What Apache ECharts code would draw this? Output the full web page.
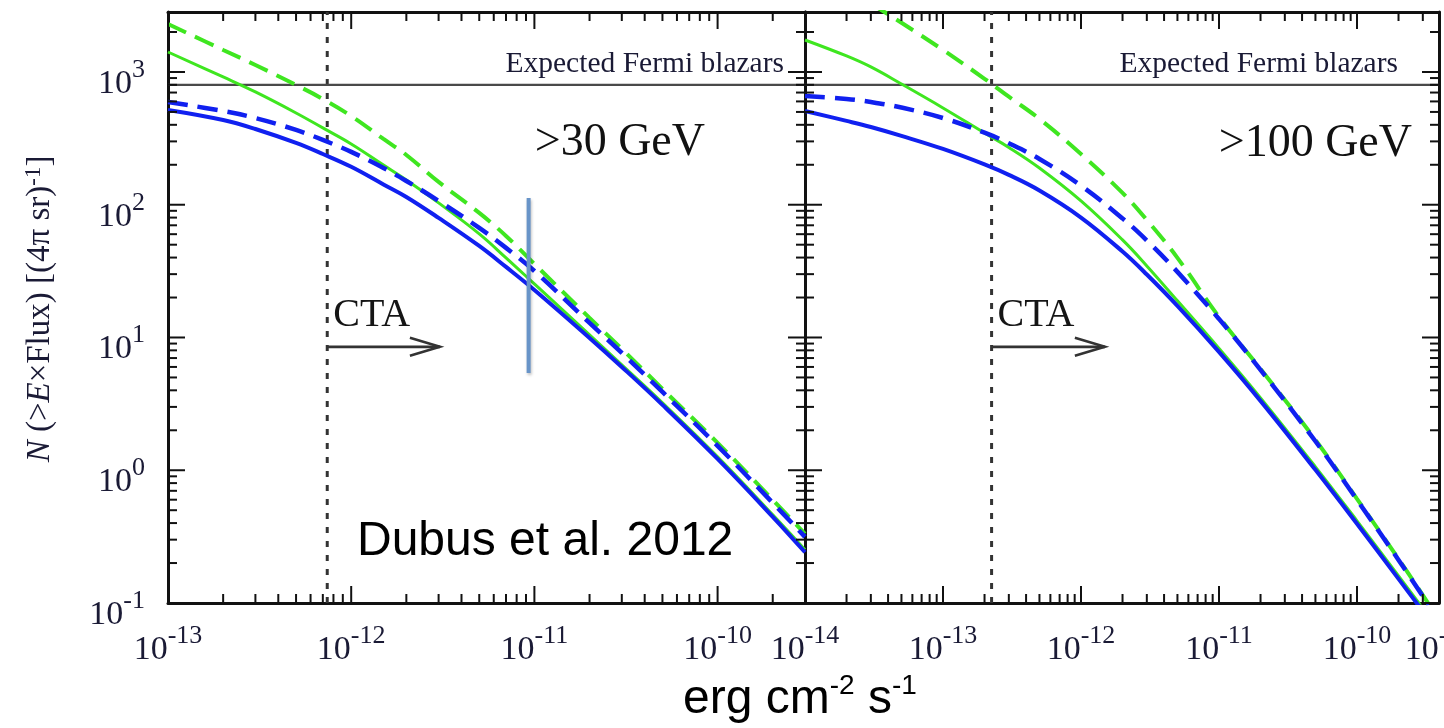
<!DOCTYPE html>
<html>
<head>
<meta charset="utf-8">
<script src="https://cdn.jsdelivr.net/npm/echarts@6.0.0/dist/echarts.min.js"></script>
<style>
  html, body { margin: 0; padding: 0; background: #fff; }
  #chart { width: 1444px; height: 728px; }
</style>
</head>
<body>
<div id="chart"></div>
<script>
// ---- >30 GeV panel: N(>S) versus energy-flux threshold S (erg cm^-2 s^-1)
const flux30 = [1e-13, 2e-13, 3e-13, 5e-13, 7e-13, 1e-12, 1.5e-12, 2e-12, 3e-12, 5e-12, 7e-12, 1e-11, 2e-11, 3e-11, 5e-11, 1e-10, 2e-10, 3e-10];
const greenDashed30 = [2298, 1465, 1129, 798, 626, 466, 313, 237, 148.5, 86.8, 58.2, 35.8, 14.05, 8.21, 4.10, 1.608, 0.599, 0.332];
const greenSolid30  = [1414, 917, 707, 491, 379, 287, 199, 153.7, 103.2, 60.3, 39.8, 25.3, 10.46, 6.22, 3.22, 1.261, 0.461, 0.252];
const blueDashed30  = [594, 508, 450, 366, 307.6, 250, 189.3, 151, 106.8, 66.9, 47.3, 31.7, 12.88, 7.66, 3.89, 1.527, 0.568, 0.315];
const blueSolid30   = [518, 435, 372, 292, 241, 193, 142.2, 114.5, 79.6, 48.9, 34.0, 22.8, 9.93, 6.0, 3.11, 1.218, 0.446, 0.241];

// ---- >100 GeV panel
const flux100 = [1e-14, 2e-14, 3e-14, 5e-14, 1e-13, 2e-13, 3e-13, 5e-13, 1e-12, 2e-12, 3e-12, 5e-12, 1e-11, 2e-11, 5e-11, 1e-10, 2e-10, 3.3e-10];
const greenDashed100 = [null, null, 3280, 2347, 1465, 889, 651, 443, 241, 122.7, 76.8, 39.8, 14.3, 5.80, 1.694, 0.609, 0.215, 0.0986];
const greenSolid100  = [1742, 1320, 1091, 812, 536, 347, 270, 189, 106.8, 54.3, 34.6, 18.9, 8.28, 3.51, 1.061, 0.416, 0.160, 0.080];
const blueDashed100  = [659, 626, 594, 539.5, 450, 349, 290.5, 221.2, 139.3, 78.9, 53.8, 31.2, 13.8, 5.70, 1.653, 0.599, 0.211, 0.097];
const blueSolid100   = [508, 428, 385, 330, 263, 201, 167.7, 127.9, 80.1, 44.4, 29.8, 17.3, 7.79, 3.33, 1.007, 0.395, 0.152, 0.076];

// ---- reference levels and annotations
const fermiExpected = 800;
const ctaLimit30 = 7.4e-13;
const ctaLimit100 = 2.25e-13;
const ctaArrowEnd30 = 3.05e-12;
const ctaArrowEnd100 = 1.49e-12;
const ctaArrowLevel = 8.5;
const markerFlux = 9.3e-12;
const markerRange = [112.5, 5.4];

// ---- axis ranges and labelled decades
const xRange30 = [1e-13, 3e-10];
const xRange100 = [1e-14, 3.93e-10];
const yRange = [0.1, 2830];
const xTickExponents30 = [-13, -12, -11, -10];
const xTickExponents100 = [-14, -13, -12, -11, -10];
const yTickExponents = [-1, 0, 1, 2, 3];

const BLUE = '#1020f0';
const GREEN = '#3fe620';
const INK = '#1a1a35';
const SERIF = '"Liberation Serif", "Times New Roman", serif';
const SANS = '"Liberation Sans", Arial, sans-serif';

const pairs = (xs, ys) => xs.map((x, i) => [x, ys[i]]);

const powerRich = {
  b: { fontSize: 34, fontFamily: SERIF, color: INK, lineHeight: 44, verticalAlign: 'bottom' },
  s: { fontSize: 26, fontFamily: SERIF, color: INK, lineHeight: 16, verticalAlign: 'top' }
};
function powerLabel(exponents) {
  return function (v) {
    const e = Math.log10(v);
    const r = Math.round(e);
    if (Math.abs(e - r) > 1e-6 || exponents.indexOf(r) < 0) return '';
    return '{b|10}{s|' + r + '}';
  };
}

const frameLine = { show: true, onZero: false, lineStyle: { color: '#111', width: 3 } };
function xAxisDef(grid, range, pos, exps) {
  return {
    type: 'log', gridIndex: grid, min: range[0], max: range[1], position: pos,
    axisLine: frameLine, axisTick: { show: false }, minorTick: { show: false },
    splitLine: { show: false },
    axisLabel: exps ? {
      show: true, margin: 20, formatter: powerLabel(exps), rich: powerRich,
      showMinLabel: true, showMaxLabel: false
    } : { show: false }
  };
}
function yAxisDef(grid, pos, exps) {
  return {
    type: 'log', gridIndex: grid, min: yRange[0], max: yRange[1], position: pos,
    axisLine: frameLine, axisTick: { show: false }, minorTick: { show: false },
    splitLine: { show: false },
    axisLabel: exps ? {
      show: true, margin: 23, formatter: powerLabel(exps), rich: powerRich,
      padding: [14, 0, 0, 0], showMinLabel: true, showMaxLabel: false
    } : { show: false }
  };
}

function curve(xs, ys, color, width, dashed, grid, z) {
  return {
    type: 'line', xAxisIndex: grid * 2, yAxisIndex: grid * 2,
    data: pairs(xs, ys), showSymbol: false, symbol: 'none', smooth: 0.4, clip: true,
    lineStyle: { color: color, width: width, type: dashed ? [20, 10] : 'solid', cap: 'butt' },
    z: z, silent: true
  };
}

function straight(points, style, grid, z) {
  return {
    type: 'line', xAxisIndex: grid * 2, yAxisIndex: grid * 2,
    data: points, showSymbol: false, symbol: 'none', clip: true,
    lineStyle: style, z: z, silent: true
  };
}

// inward major/minor log ticks on all four sides of a panel
function tickData(xr, yr) {
  const out = [];
  const add = (lo, hi, make) => {
    const k0 = Math.floor(Math.log10(lo) + 1e-9), k1 = Math.ceil(Math.log10(hi));
    for (let k = k0; k <= k1; k++) {
      for (let m = 1; m <= 9; m++) {
        const v = m * Math.pow(10, k);
        if (v >= lo * 0.999999 && v <= hi * 1.000001) out.push(make(v, m === 1 ? 1 : 0));
      }
    }
  };
  add(xr[0], xr[1], (v, major) => [v, yr[0], 0, major]);
  add(yr[0], yr[1], (v, major) => [xr[0], v, 1, major]);
  return out;
}
function tickSeries(grid, xr) {
  return {
    type: 'custom', coordinateSystem: 'cartesian2d', xAxisIndex: grid * 2, yAxisIndex: grid * 2,
    data: tickData(xr, yRange), silent: true, z: 20, clip: false,
    renderItem: function (params, api) {
      const p = api.coord([api.value(0), api.value(1)]);
      const cs = params.coordSys;
      const len = api.value(3) ? 17 : 9;
      const st = { stroke: '#111', lineWidth: 2 };
      if (api.value(2) === 0) {
        const b = cs.y + cs.height, t = cs.y;
        return { type: 'group', children: [
          { type: 'line', shape: { x1: p[0], y1: b, x2: p[0], y2: b - len }, style: st },
          { type: 'line', shape: { x1: p[0], y1: t, x2: p[0], y2: t + len }, style: st }
        ] };
      }
      const l = cs.x, r = cs.x + cs.width;
      return { type: 'group', children: [
        { type: 'line', shape: { x1: l, y1: p[1], x2: l + len, y2: p[1] }, style: st },
        { type: 'line', shape: { x1: r, y1: p[1], x2: r - len, y2: p[1] }, style: st }
      ] };
    }
  };
}

// CTA sensitivity arrow with its label
function ctaSeries(grid, from, to) {
  return {
    type: 'custom', coordinateSystem: 'cartesian2d', xAxisIndex: grid * 2, yAxisIndex: grid * 2,
    data: [[from, ctaArrowLevel, to]], silent: true, z: 15, clip: false,
    renderItem: function (params, api) {
      const p0 = api.coord([api.value(0), api.value(1)]);
      const p1 = api.coord([api.value(2), api.value(1)]);
      const st = { stroke: '#333', lineWidth: 2.6, fill: null };
      return { type: 'group', children: [
        { type: 'line', shape: { x1: p0[0], y1: p0[1], x2: p1[0], y2: p1[1] }, style: st },
        { type: 'polyline', shape: { points: [[p1[0] - 30, p1[1] - 9], [p1[0], p1[1]], [p1[0] - 30, p1[1] + 9]] }, style: st },
        { type: 'text', x: p0[0] + 6, y: p0[1] - 31,
          style: { text: 'CTA', fontSize: 40, fontFamily: SERIF, fill: '#151515', align: 'left', verticalAlign: 'middle' } }
      ] };
    }
  };
}

const dottedStyle = { color: '#333', width: 3, type: [6, 8] };
const fermiStyle = { color: '#4a4a4a', width: 2.4 };

const series = [
  // >30 GeV
  straight([[ctaLimit30, yRange[0]], [ctaLimit30, yRange[1]]], dottedStyle, 0, 2),
  straight([[xRange30[0], fermiExpected], [xRange30[1], fermiExpected]], fermiStyle, 0, 2),
  curve(flux30, greenDashed30, GREEN, 4, true, 0, 3),
  curve(flux30, greenSolid30, GREEN, 3, false, 0, 4),
  curve(flux30, blueDashed30, BLUE, 4.5, true, 0, 5),
  curve(flux30, blueSolid30, BLUE, 4, false, 0, 6),
  {
    type: 'line', xAxisIndex: 0, yAxisIndex: 0,
    data: [[markerFlux, markerRange[0]], [markerFlux, markerRange[1]]],
    showSymbol: false, symbol: 'none', silent: true, z: 8,
    lineStyle: { color: '#6894c8', width: 4, shadowColor: 'rgba(0,0,0,0.25)', shadowBlur: 3, shadowOffsetX: 1, shadowOffsetY: 2 }
  },
  ctaSeries(0, ctaLimit30, ctaArrowEnd30),
  tickSeries(0, xRange30),
  // >100 GeV
  straight([[ctaLimit100, yRange[0]], [ctaLimit100, yRange[1]]], dottedStyle, 1, 2),
  straight([[xRange100[0], fermiExpected], [xRange100[1], fermiExpected]], fermiStyle, 1, 2),
  curve(flux100, greenDashed100, GREEN, 4, true, 1, 3),
  curve(flux100, greenSolid100, GREEN, 3, false, 1, 4),
  curve(flux100, blueDashed100, BLUE, 4.5, true, 1, 5),
  curve(flux100, blueSolid100, BLUE, 4, false, 1, 6),
  ctaSeries(1, ctaLimit100, ctaArrowEnd100),
  tickSeries(1, xRange100)
];

const chart = echarts.init(document.getElementById('chart'), null, { renderer: 'canvas' });
chart.setOption({
  backgroundColor: '#fff',
  animation: false,
  grid: [
    { left: 168, top: 12, width: 637, height: 591 },
    { left: 805, top: 12, width: 634, height: 591 }
  ],
  xAxis: [
    xAxisDef(0, xRange30, 'bottom', xTickExponents30),
    xAxisDef(0, xRange30, 'top', null),
    xAxisDef(1, xRange100, 'bottom', xTickExponents100),
    xAxisDef(1, xRange100, 'top', null)
  ],
  yAxis: [
    yAxisDef(0, 'left', yTickExponents),
    yAxisDef(0, 'right', null),
    yAxisDef(1, 'left', null),
    yAxisDef(1, 'right', null)
  ],
  series: series,
  graphic: [
    { type: 'text', x: 40, y: 309, rotation: Math.PI / 2, silent: true,
      style: {
        text: '{i|N}{m| (>}{i|E}{m|×Flux) [(4π sr)}{s|-1}{m|]}',
        align: 'center', verticalAlign: 'middle',
        rich: {
          m: { fontSize: 33, fontFamily: SERIF, fill: INK, lineHeight: 36 },
          i: { fontSize: 33, fontFamily: SERIF, fontStyle: 'italic', fill: INK, lineHeight: 36 },
          s: { fontSize: 23, fontFamily: SERIF, fill: INK, lineHeight: 8, verticalAlign: 'top' }
        }
      } },
    { type: 'text', x: 683, y: 672, silent: true,
      style: {
        text: '{a|erg cm}{s|-2}{a| s}{s|-1}', align: 'left', verticalAlign: 'top',
        rich: {
          a: { fontSize: 48, fontFamily: SANS, fill: '#000', lineHeight: 56 },
          s: { fontSize: 28, fontFamily: SANS, fill: '#000', lineHeight: 50, verticalAlign: 'top' }
        }
      } },
    { type: 'text', x: 357, y: 542, silent: true,
      style: { text: 'Dubus et al. 2012', fontSize: 48, fontFamily: SANS, fill: '#000', align: 'left', verticalAlign: 'middle' } },
    { type: 'text', x: 705, y: 143, silent: true,
      style: { text: '>30 GeV', fontSize: 46, fontFamily: SERIF, fill: '#111', align: 'right', verticalAlign: 'middle' } },
    { type: 'text', x: 1412, y: 144, silent: true,
      style: { text: '>100 GeV', fontSize: 46, fontFamily: SERIF, fill: '#111', align: 'right', verticalAlign: 'middle' } },
    { type: 'text', x: 784, y: 64, silent: true,
      style: { text: 'Expected Fermi blazars', fontSize: 29.5, fontFamily: SERIF, fill: INK, align: 'right', verticalAlign: 'middle' } },
    { type: 'text', x: 1398, y: 64, silent: true,
      style: { text: 'Expected Fermi blazars', fontSize: 29.5, fontFamily: SERIF, fill: INK, align: 'right', verticalAlign: 'middle' } },
    { type: 'text', x: 1439, y: 623, silent: true,
      style: {
        text: '{b|10}{s|-14}', align: 'center', verticalAlign: 'top',
        rich: {
          b: { fontSize: 34, fontFamily: SERIF, fill: INK, lineHeight: 44, verticalAlign: 'bottom' },
          s: { fontSize: 26, fontFamily: SERIF, fill: INK, lineHeight: 16, verticalAlign: 'top' }
        }
      } }
  ]
});
</script>
</body>
</html>
